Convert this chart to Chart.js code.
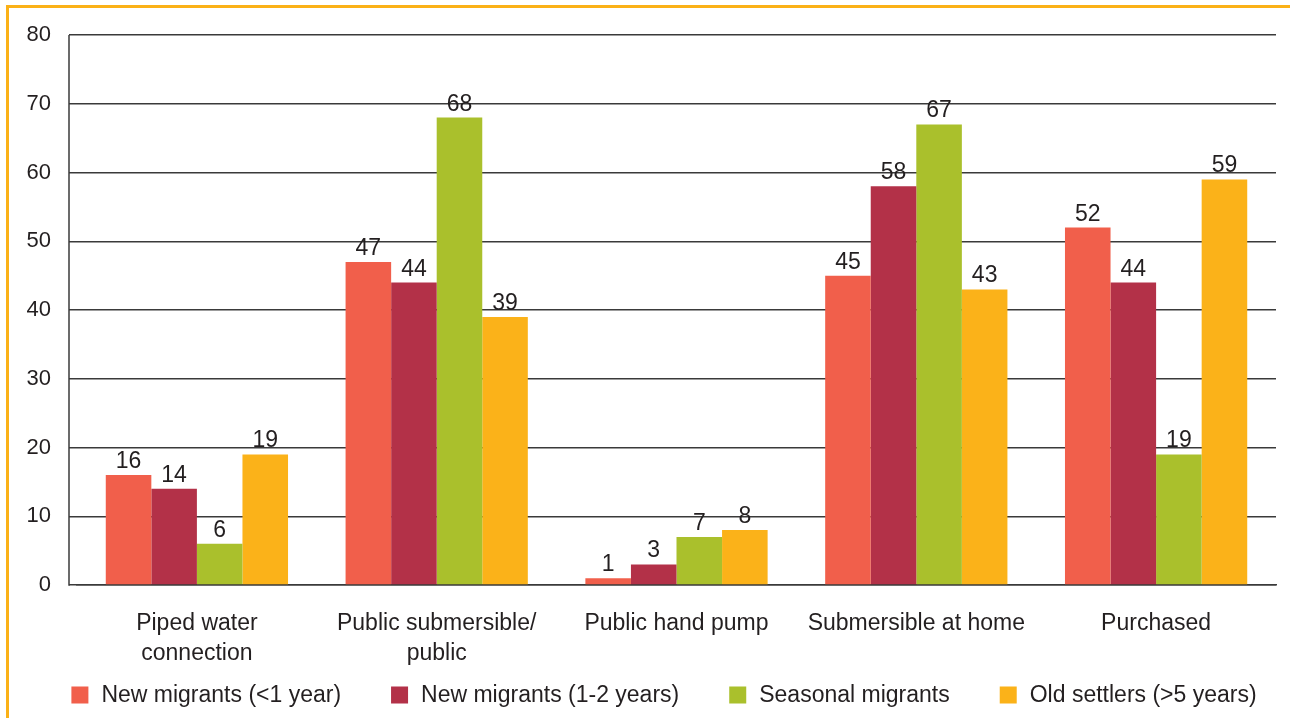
<!DOCTYPE html>
<html>
<head>
<meta charset="utf-8">
<title>Water sources by migrant group</title>
<script src="https://cdn.jsdelivr.net/npm/chart.js@4.4.1/dist/chart.umd.min.js"></script>
<style>
  html, body { margin: 0; padding: 0; background: #fff; }
  body { width: 1290px; height: 718px; position: relative; overflow: hidden; }
  .frame {
    position: absolute; left: 6px; top: 5px; right: -10px; bottom: -10px;
    border-top: 3px solid #fbb117; border-left: 3px solid #fbb117;
  }
  #wrap { position: absolute; left: 0; top: 0; width: 1290px; height: 718px; }
</style>
</head>
<body>
<div class="frame"></div>
<div id="wrap"><canvas id="chart"></canvas></div>
<script>
const categories = [
  ["Piped water", "connection"],
  ["Public submersible/", "public"],
  "Public hand pump",
  "Submersible at home",
  "Purchased",
];
const seriesNames = [
  "New migrants (<1 year)",
  "New migrants (1-2 years)",
  "Seasonal migrants",
  "Old settlers (>5 years)",
];
const newUnder1 = [16, 47, 1, 45, 52];
const new1to2 = [14, 44, 3, 58, 44];
const seasonal = [6, 68, 7, 67, 19];
const oldSettlers = [19, 39, 8, 43, 59];
const yTicks = [0, 10, 20, 30, 40, 50, 60, 70, 80];

const colors = ["#f15f4b", "#b33148", "#aac02c", "#fbb219"];
const textColor = "#231f20";
const lineColor = "#3a3a3a";
const family = "'Liberation Sans', Arial, sans-serif";
const tickFont = { family, size: 22 };
const labelFont = { family, size: 23 };

// value printed above every bar
const valueLabels = {
  id: "valueLabels",
  afterDatasetsDraw(chart) {
    const ctx = chart.ctx;
    ctx.save();
    ctx.font = `${labelFont.size}px ${family}`;
    ctx.fillStyle = textColor;
    ctx.textAlign = "center";
    ctx.textBaseline = "alphabetic";
    chart.data.datasets.forEach((ds, i) => {
      chart.getDatasetMeta(i).data.forEach((bar, j) => {
        ctx.fillText(String(ds.data[j]), bar.x, bar.y - 7);
      });
    });
    ctx.restore();
  },
};

// vertical axis line sits where the gridline ticks start
const axisLine = {
  id: "axisLine",
  beforeDatasetsDraw(chart) {
    const { ctx, chartArea } = chart;
    const x = chartArea.left - 8;
    ctx.save();
    ctx.strokeStyle = lineColor;
    ctx.lineWidth = 1.5;
    ctx.beginPath();
    ctx.moveTo(x, chartArea.top);
    ctx.lineTo(x, chartArea.bottom + 0.75);
    ctx.stroke();
    ctx.restore();
  },
};

// one-row legend along the bottom edge, wide gaps between entries
const bottomLegend = {
  id: "bottomLegend",
  afterDraw(chart) {
    const ctx = chart.ctx;
    const box = 17, textGap = 13, itemGap = 50;
    const centerX = 664, centerY = 695;
    ctx.save();
    ctx.font = `${labelFont.size}px ${family}`;
    const items = chart.data.datasets.map((ds) => ({
      text: ds.label,
      color: ds.backgroundColor,
      w: box + textGap + ctx.measureText(ds.label).width,
    }));
    const total = items.reduce((s, it) => s + it.w, 0) + itemGap * (items.length - 1);
    let x = centerX - total / 2;
    ctx.textBaseline = "middle";
    ctx.textAlign = "left";
    items.forEach((it) => {
      ctx.fillStyle = it.color;
      ctx.fillRect(x, centerY - box / 2, box, box);
      ctx.fillStyle = textColor;
      ctx.fillText(it.text, x + box + textGap, centerY + 1);
      x += it.w + itemGap;
    });
    ctx.restore();
  },
};

const datasets = [newUnder1, new1to2, seasonal, oldSettlers].map((values, i) => ({
  label: seriesNames[i],
  data: values,
  backgroundColor: colors[i],
  borderWidth: 0,
  categoryPercentage: 0.76,
  barPercentage: 1.0,
}));

new Chart(document.getElementById("chart"), {
  type: "bar",
  data: { labels: categories, datasets },
  options: {
    responsive: true,
    maintainAspectRatio: false,
    animation: false,
    layout: { padding: { top: 35, right: 14, bottom: 48, left: 0 } },
    plugins: {
      legend: { display: false },
      tooltip: { enabled: false },
    },
    scales: {
      x: {
        grid: { display: false, drawTicks: false },
        border: { display: true, color: lineColor, width: 1.5 },
        ticks: {
          color: textColor,
          font: { ...labelFont, lineHeight: 1.3 },
          padding: 24,
          maxRotation: 0,
        },
        afterFit(scale) { scale.height = 85; },
      },
      y: {
        min: 0,
        max: 80,
        afterBuildTicks(scale) { scale.ticks = yTicks.map((v) => ({ value: v })); },
        grid: { color: lineColor, lineWidth: 1.5, tickLength: 8, drawTicks: true },
        border: { display: false },
        ticks: { color: textColor, font: tickFont, padding: 18 },
        afterFit(scale) { scale.width = 77; },
      },
    },
  },
  plugins: [valueLabels, axisLine, bottomLegend],
});
</script>
</body>
</html>
